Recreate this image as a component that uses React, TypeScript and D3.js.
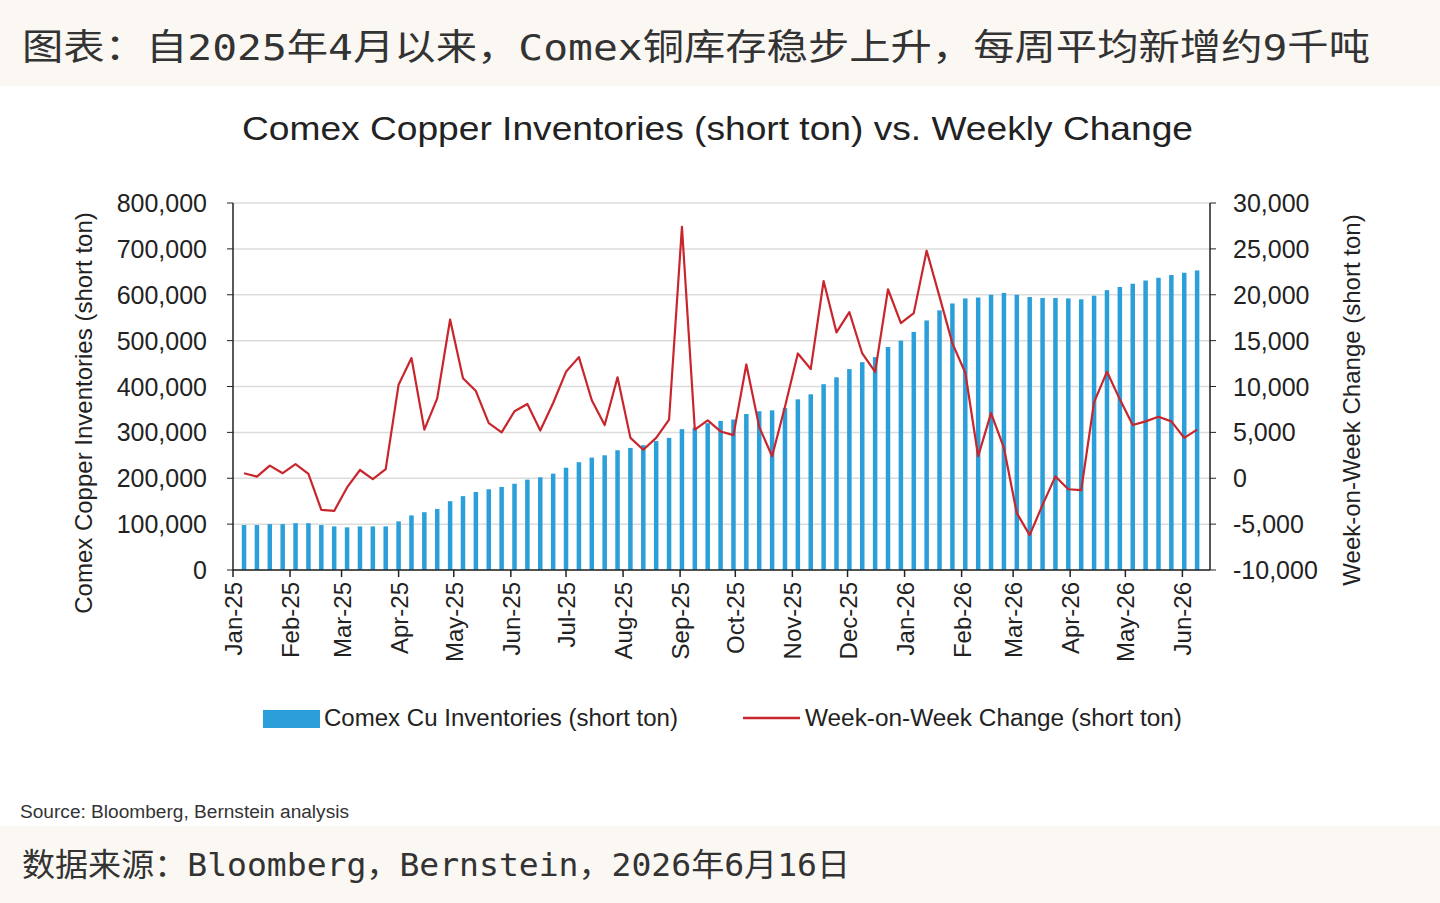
import React from 'react';
import * as d3 from 'd3';

// weekly inventories (short ton), week starting Jan 7 2025
const inventories = [
  98000, 98000, 100000, 100000, 102000, 102000, 98000, 95000, 93000, 95000,
  95000, 95000, 106000, 119000, 126000, 133000, 150000, 161000, 170000, 176000,
  181000, 188000, 197000, 202000, 210000, 223000, 235000, 245000, 250000, 261000,
  266000, 272000, 281000, 288000, 307000, 310000, 320000, 325000, 328000, 340000,
  346000, 348000, 353000, 372000, 383000, 405000, 420000, 438000, 453000, 464000,
  486000, 500000, 519000, 544000, 566000, 581000, 592000, 594000, 600000, 604000,
  600000, 595000, 593000, 593000, 592000, 590000, 598000, 610000, 617000, 624000,
  631000, 637000, 643000, 648000, 653000,
];
const weeklyChange = [
  550, 180, 1380, 550, 1530, 470, -3450, -3560, -1000, 900,
  -100, 1000, 10200, 13100, 5300, 8700, 17300, 10900, 9500, 6000,
  5000, 7300, 8100, 5200, 8200, 11600, 13200, 8500, 5800, 11000,
  4400, 3100, 4400, 6400, 27400, 5300, 6300, 5100, 4700, 12400,
  5600, 2400, 7800, 13600, 11900, 21500, 15900, 18100, 13600, 11600,
  20600, 16900, 18000, 24800, 19800, 14700, 11500, 2400, 7100, 3300,
  -3800, -6200, -2900, 200, -1200, -1300, 8300, 11600, 8600, 5800,
  6200, 6700, 6200, 4400, 5300,
];
const leftTicks = [0, 100000, 200000, 300000, 400000, 500000, 600000, 700000, 800000];
const rightTicks = [-10000, -5000, 0, 5000, 10000, 15000, 20000, 25000, 30000];

const firstWeek = new Date(2025, 0, 7);
const weeks = inventories.map((_, i) => d3.timeDay.offset(firstWeek, i * 7));
const months = d3.timeMonth.range(new Date(2025, 0, 1), new Date(2026, 5, 2));

const BLUE = '#2b9fd9';
const RED = '#c8262c';
const FONT = '"Liberation Sans", Arial, sans-serif';
const CJK = '"DejaVu Sans Mono", "Noto Sans CJK SC", sans-serif';

const App: React.FC = () => {
  const left = 233, right = 1210, top = 203, bottom = 570;
  const x = d3.scaleTime().domain([new Date(2025, 0, 1), new Date(2026, 5, 16)]).range([left, right]);
  const yL = d3.scaleLinear().domain([0, 800000]).range([bottom, top]);
  const yR = d3.scaleLinear().domain([-10000, 30000]).range([bottom, top]);
  const fmt = d3.format(',');
  const line = d3.line<number>()
    .x((_, i) => x(weeks[i]))
    .y((d) => yR(d));
  const barW = 4.5;

  return (
    <svg width={1440} height={903} style={{ position: 'absolute', left: 0, top: 0 }}>
      <rect width={1440} height={903} fill="#fff" />
      <rect width={1440} height={86} fill="#fbf8f3" />
      <rect y={826} width={1440} height={77} fill="#fbf8f3" />
      <text x={22} y={60} fontFamily={CJK} fontSize={36} fill="#333" textLength={1348} lengthAdjust="spacingAndGlyphs">
        图表：自2025年4月以来，Comex铜库存稳步上升，每周平均新增约9千吨
      </text>
      <text x={242} y={140} fontFamily={FONT} fontSize={34} fill="#222" textLength={951} lengthAdjust="spacingAndGlyphs">
        Comex Copper Inventories (short ton) vs. Weekly Change
      </text>

      {/* gridlines */}
      {leftTicks.map((t) => (
        <line key={t} x1={left} x2={right} y1={yL(t)} y2={yL(t)} stroke="#dcdcdc" strokeWidth={1.5} />
      ))}

      {/* bars */}
      {inventories.map((v, i) => (
        <rect key={i} x={x(weeks[i]) - barW / 2} y={yL(v)} width={barW} height={bottom - yL(v)} fill={BLUE} />
      ))}

      <path d={line(weeklyChange) ?? ''} fill="none" stroke={RED} strokeWidth={2.2} strokeLinejoin="round" />

      {/* axes */}
      <line x1={left} x2={left} y1={top} y2={bottom} stroke="#222" strokeWidth={1.5} />
      <line x1={right} x2={right} y1={top} y2={bottom} stroke="#222" strokeWidth={1.5} />
      <line x1={left} x2={right} y1={bottom} y2={bottom} stroke="#222" strokeWidth={1.5} />
      {leftTicks.map((t) => (
        <g key={t}>
          <line x1={left - 6} x2={left} y1={yL(t)} y2={yL(t)} stroke="#222" />
          <text x={207} y={yL(t) + 9} textAnchor="end" fontFamily={FONT} fontSize={25} fill="#222">{fmt(t)}</text>
        </g>
      ))}
      {rightTicks.map((t) => (
        <g key={t}>
          <line x1={right} x2={right + 6} y1={yR(t)} y2={yR(t)} stroke="#222" />
          <text x={1233} y={yR(t) + 9} fontFamily={FONT} fontSize={25} fill="#222">{fmt(t).replace('−', '-')}</text>
        </g>
      ))}
      {months.map((m, i) => (
        <g key={i} transform={`translate(${x(m)},${bottom})`}>
          <line y1={0} y2={7} stroke="#222" strokeWidth={1.5} />
          <text transform="rotate(-90)" x={-12} y={9} textAnchor="end" fontFamily={FONT} fontSize={24} fill="#222">
            {d3.timeFormat('%b-%y')(m)}
          </text>
        </g>
      ))}
      <text transform="translate(92,413) rotate(-90)" textAnchor="middle" fontFamily={FONT} fontSize={24} fill="#222">
        Comex Copper Inventories (short ton)
      </text>
      <text transform="translate(1360,400) rotate(-90)" textAnchor="middle" fontFamily={FONT} fontSize={24} fill="#222">
        Week-on-Week Change (short ton)
      </text>

      {/* legend */}
      <rect x={263} y={710} width={57} height={18} fill={BLUE} />
      <text x={324} y={726} fontFamily={FONT} fontSize={23} fill="#222" textLength={354} lengthAdjust="spacingAndGlyphs">Comex Cu Inventories (short ton)</text>
      <line x1={743} x2={800} y1={718} y2={718} stroke={RED} strokeWidth={2.5} />
      <text x={805} y={726} fontFamily={FONT} fontSize={23} fill="#222" textLength={377} lengthAdjust="spacingAndGlyphs">Week-on-Week Change (short ton)</text>

      <text x={20} y={818} fontFamily={FONT} fontSize={18} fill="#333" textLength={329} lengthAdjust="spacingAndGlyphs">Source: Bloomberg, Bernstein analysis</text>
      <text x={22} y={876} fontFamily={CJK} fontSize={32} fill="#333" textLength={828} lengthAdjust="spacingAndGlyphs">
        数据来源：Bloomberg，Bernstein，2026年6月16日
      </text>
    </svg>
  );
};

export default App;
